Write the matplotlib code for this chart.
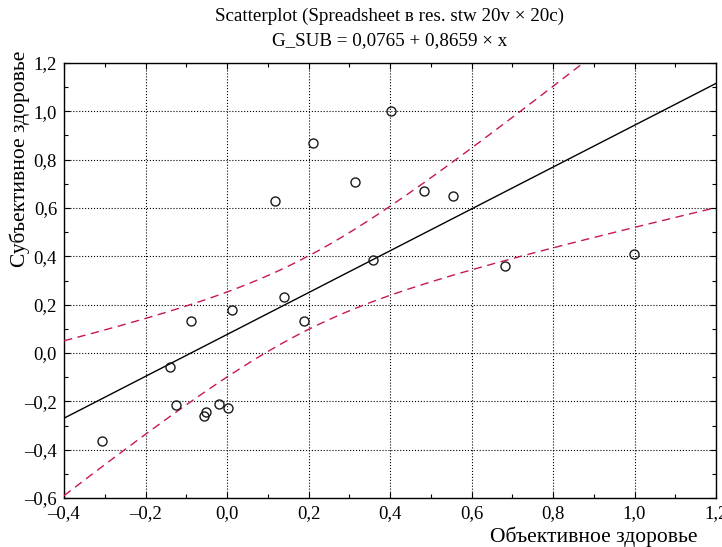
import numpy as np
import matplotlib
matplotlib.use("Agg")
import matplotlib.pyplot as plt
from matplotlib.ticker import MultipleLocator, FuncFormatter

plt.rcParams['font.family'] = ['Liberation Serif', 'DejaVu Serif']

# data
obj_health = [-0.307, -0.140, -0.125, -0.088, -0.056, -0.052, -0.020, 0.002, 0.012, 0.118,
              0.140, 0.211, 0.314, 0.402, 0.189, 0.358, 0.483, 0.554, 0.682, 0.999]
sub_health = [-0.364, -0.058, -0.215, 0.132, -0.260, -0.244, -0.211, -0.228, 0.178, 0.629,
              0.232, 0.869, 0.707, 1.000, 0.132, 0.385, 0.670, 0.649, 0.360, 0.410]
intercept = 0.0765
slope = 0.8659

x = np.array(obj_health)
y = np.array(sub_health)
n = len(x)

# 95% confidence band for the regression line
xs = np.linspace(-0.4, 1.2, 200)
fit = intercept + slope * xs
resid = y - (intercept + slope * x)
s = np.sqrt(np.sum(resid ** 2) / (n - 2))
sxx = np.sum((x - x.mean()) ** 2)
t = 2.101
half = t * s * np.sqrt(1 / n + (xs - x.mean()) ** 2 / sxx)

fig = plt.figure(figsize=(7.22, 5.47), dpi=100)
ax = fig.add_axes([64 / 722, 1 - 498 / 547, (716 - 64) / 722, (498 - 63) / 547])

ax.plot(xs, fit, color='black', lw=1.0, zorder=3)
ax.plot(xs, fit + half, color='#c8194b', lw=1.0, dashes=(6, 4), zorder=3)
ax.plot(xs, fit - half, color='#c8194b', lw=1.0, dashes=(6, 4), zorder=3)
ax.plot(x, y, 'o', mfc='none', mec='#1a1a1a', ms=6.5, mew=1.0, zorder=4)

ax.set_xlim(-0.4, 1.2)
ax.set_ylim(-0.6, 1.2)
ax.xaxis.set_major_locator(MultipleLocator(0.2))
ax.yaxis.set_major_locator(MultipleLocator(0.2))
ax.xaxis.set_minor_locator(MultipleLocator(0.1))
ax.yaxis.set_minor_locator(MultipleLocator(0.1))


def fmt_tick(v, p):
    txt = f"{v:.1f}".replace('.', ',')
    if txt == '-0,0':
        txt = '0,0'
    return txt.replace('-', '\u2013')


fmt = FuncFormatter(fmt_tick)
ax.xaxis.set_major_formatter(fmt)
ax.yaxis.set_major_formatter(fmt)
ax.tick_params(which='both', direction='in', top=True, right=True, labelsize=13.5, colors='black')
ax.tick_params(which='major', length=4, width=0.8)
ax.tick_params(which='minor', length=3, width=0.8)
ax.tick_params(axis='x', pad=5)
ax.tick_params(axis='y', pad=5)
ax.grid(True, which='major', color='black', ls=':', lw=0.8)
for sp in ax.spines.values():
    sp.set_linewidth(1.0)

fig.text(390 / 722, 1 - 16 / 547, 'Scatterplot (Spreadsheet в res. stw 20v × 20c)',
         ha='center', va='center', fontsize=13.7)
fig.text(390 / 722, 1 - 41 / 547, 'G_SUB = 0,0765 + 0,8659 × x',
         ha='center', va='center', fontsize=13.7)
fig.text(20 / 722, 1 - 51 / 547, 'Субъективное здоровье', rotation=90,
         ha='center', va='top', fontsize=15.5)
fig.text(697 / 722, 1 - 537 / 547, 'Объективное здоровье',
         ha='right', va='center', fontsize=15.5)

fig.savefig('out.png', dpi=100)
